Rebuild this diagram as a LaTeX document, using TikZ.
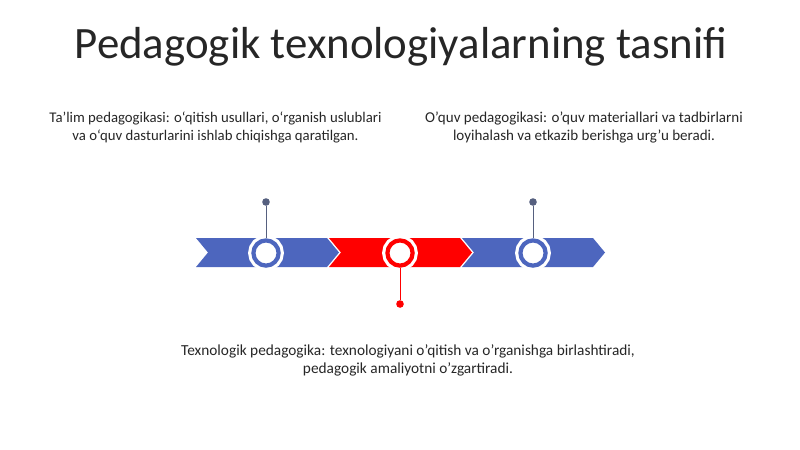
\documentclass[tikz,border=0pt]{standalone}
\usepackage{fontspec}
\setmainfont{Carlito}
\definecolor{tlblue}{HTML}{4D66BE}
\definecolor{tlred}{HTML}{FF0000}
\definecolor{stemgray}{HTML}{56607F}
\definecolor{textgray}{HTML}{262626}
\tikzstyle{ring} = [circle, minimum size=0.63cm, inner sep=0pt, fill=white, line width=3pt, preaction={draw=white, line width=7.5pt}]
\tikzstyle{knob} = [circle, minimum size=0.19cm, fill, inner sep=0pt]
\tikzstyle{blurb} = [align=center, text=textgray, font=\fontsize{10.5}{12.8}\selectfont]

\begin{document}
\begin{tikzpicture}[x=0.025cm, y=-0.025cm]
    \useasboundingbox (0,0) rectangle (800,449);
    \node[text=textgray, font=\fontsize{31.9}{36}\selectfont] (title) at (401,47) {Pedagogik texnologiyalarning tasnifi};
    \fill[tlblue] (196,238) -- ++(131,0) -- ++(12,14.5) -- ++(-12,14.5) -- ++(-131,0) -- ++(12,-14.5) -- cycle;
    \fill[tlred] (329,238) -- ++(131,0) -- ++(12,14.5) -- ++(-12,14.5) -- ++(-131,0) -- ++(12,-14.5) -- cycle;
    \fill[tlblue] (462,238) -- ++(131,0) -- ++(12,14.5) -- ++(-12,14.5) -- ++(-131,0) -- ++(12,-14.5) -- cycle;
    \draw (266,253) node[ring, draw=tlblue] (R1) {};
    \draw (400,253) node[ring, draw=tlred] (R2) {};
    \draw (533,253) node[ring, draw=tlblue] (R3) {};
    \draw (266,202) node[knob, stemgray] (K1) {};
    \draw (400,304) node[knob, tlred] (K2) {};
    \draw (533,202) node[knob, stemgray] (K3) {};
    \draw [stemgray, line width=0.7pt] (R1.north) -- (K1);
    \draw [tlred, line width=0.7pt] (R2.south) -- (K2);
    \draw [stemgray, line width=0.7pt] (R3.north) -- (K3);
    \node[blurb] (talim) at (215.5,127) {Ta’lim pedagogikasi: o‘qitish usullari, o‘rganish uslublari\\va o‘quv dasturlarini ishlab chiqishga qaratilgan.};
    \node[blurb, font=\fontsize{10.7}{12.8}\selectfont] (oquv) at (584,127) {O’quv pedagogikasi: o’quv materiallari va tadbirlarni\\loyihalash va etkazib berishga urg’u beradi.};
    \node[blurb, font=\fontsize{10.9}{12.4}\selectfont] (texno) at (408,360.5) {Texnologik pedagogika: texnologiyani o’qitish va o’rganishga birlashtiradi,\\pedagogik amaliyotni o’zgartiradi.};
\end{tikzpicture}
\end{document}
